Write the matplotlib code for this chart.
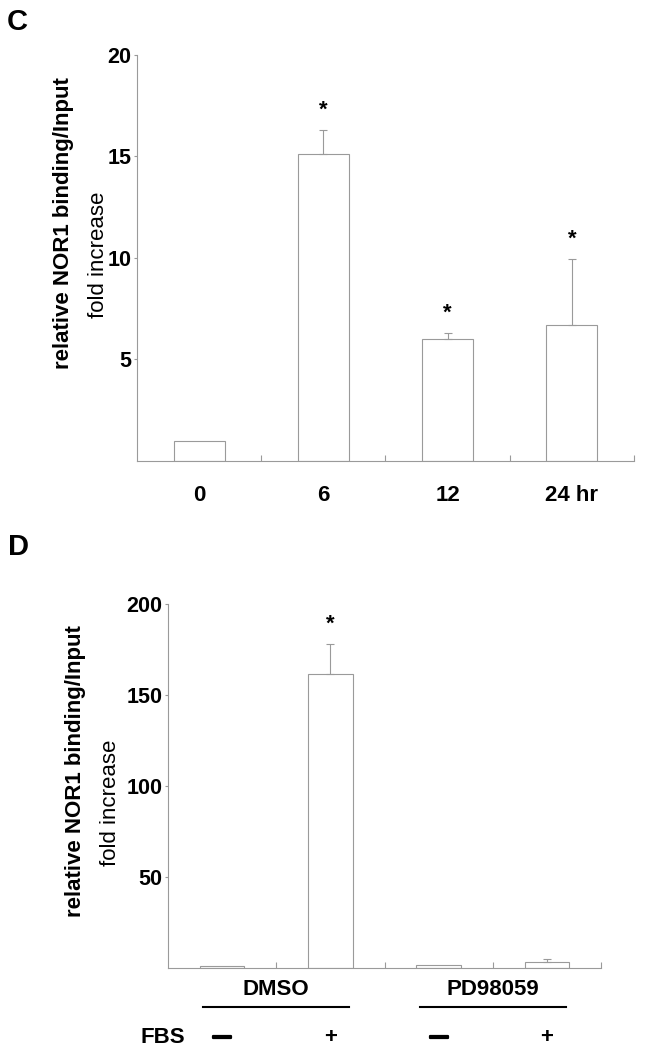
import numpy as np
import matplotlib
matplotlib.use('Agg')
import matplotlib.pyplot as plt
import matplotlib.patheffects as pe

plt.rcParams['font.family'] = ['Liberation Sans', 'DejaVu Sans']

# panel C: time course
time_labels = ['0', '6', '12', '24 hr']
time_values = [1.0, 15.1, 6.0, 6.7]
time_errors = [0.0, 1.2, 0.3, 3.25]
time_stars = [False, True, True, True]

# panel D: DMSO / PD98059 with or without FBS
treat_values = [1.2, 161.5, 1.5, 3.3]
treat_errors = [0.0, 16.5, 0.0, 1.5]
treat_stars = [False, True, False, False]
group_names = ['DMSO', 'PD98059']
fbs_signs = ['—', '+', '—', '+']

grey = '#9a9a9a'


def style_axes(ax, top, ticks):
    ind = np.arange(4)
    for side in ['top', 'right']:
        ax.spines[side].set_visible(False)
    for side in ['left', 'bottom']:
        ax.spines[side].set_color(grey)
        ax.spines[side].set_linewidth(0.8)
    ax.set_xlim(-0.5, 3.5)
    ax.set_ylim(0, top)
    ax.set_yticks(ticks)
    ax.set_xticks(ind + 0.5, minor=True)
    ax.tick_params(axis='x', which='minor', direction='in', length=4,
                   color=grey, width=0.8)
    ax.tick_params(axis='x', which='major', length=0, pad=17,
                   labelsize=16)
    ax.tick_params(axis='y', length=2.5, color=grey, width=0.8, pad=1.5,
                   labelsize=15.5)
    for lab in ax.get_yticklabels() + ax.get_xticklabels():
        lab.set_fontweight('bold')


def draw_bars(ax, values, errors, stars):
    ind = np.arange(len(values))
    ax.bar(ind, values, 0.41, color='white', edgecolor=grey, linewidth=0.8)
    for i in ind:
        if errors[i] > 0:
            ax.errorbar(i, values[i], yerr=[[0], [errors[i]]], fmt='none',
                        ecolor=grey, elinewidth=0.8, capsize=3, capthick=0.8)
        if stars[i]:
            ax.annotate('*', (i, values[i] + errors[i]), xytext=(0, 10),
                        textcoords='offset points', ha='center',
                        va='baseline', fontsize=16, fontweight='bold')


fig = plt.figure(figsize=(6.45, 10.5), dpi=100)

# ---- C ----
axc = fig.add_axes([0.2124, 0.5610, 0.7705, 0.3867])
draw_bars(axc, time_values, time_errors, time_stars)
axc.set_xticks(np.arange(4))
axc.set_xticklabels(time_labels)
style_axes(axc, 20, [5, 10, 15, 20])

fig.text(7 / 645, 1 - 8 / 1050, 'C', fontsize=21, fontweight='bold',
         ha='left', va='top')
fig.text(64 / 645, 1 - 223 / 1050, 'relative NOR1 binding/Input',
         rotation=90, ha='center', va='center', fontsize=16,
         fontweight='bold')
fig.text(98 / 645, 1 - 255 / 1050, 'fold increase', rotation=90,
         ha='center', va='center', fontsize=16)

# ---- D ----
axd = fig.add_axes([0.2605, 0.0781, 0.6713, 0.3467])
draw_bars(axd, treat_values, treat_errors, treat_stars)
axd.set_xticks(np.arange(4))
axd.set_xticklabels([])
style_axes(axd, 200, [50, 100, 150, 200])

fig.text(8 / 645, 1 - 533 / 1050, 'D', fontsize=21, fontweight='bold',
         ha='left', va='top')
fig.text(76 / 645, 1 - 771 / 1050, 'relative NOR1 binding/Input',
         rotation=90, ha='center', va='center', fontsize=16,
         fontweight='bold')
fig.text(110 / 645, 1 - 803 / 1050, 'fold increase', rotation=90,
         ha='center', va='center', fontsize=16)

trans = axd.get_xaxis_transform()
for k, name in enumerate(group_names):
    c = 2 * k + 0.5
    axd.text(c, -0.06, name, transform=trans, ha='center', va='center',
             fontsize=16, fontweight='bold')
    axd.plot([c - 0.675, c + 0.675], [-0.107, -0.107], transform=trans,
             color='black', linewidth=1.5, clip_on=False)

axd.text(-0.546, -0.19, 'FBS', transform=trans, ha='center', va='center',
         fontsize=16, fontweight='bold')
for i, s in enumerate(fbs_signs):
    if s == '—':
        axd.text(i, -0.19, s, transform=trans, ha='center', va='center',
                 fontsize=13, fontweight='bold',
                 path_effects=[pe.withStroke(linewidth=1.6,
                                             foreground='black')])
    else:
        axd.text(i, -0.19, s, transform=trans, ha='center', va='center',
                 fontsize=16, fontweight='bold')

fig.savefig('out.png', dpi=100, facecolor='white')
